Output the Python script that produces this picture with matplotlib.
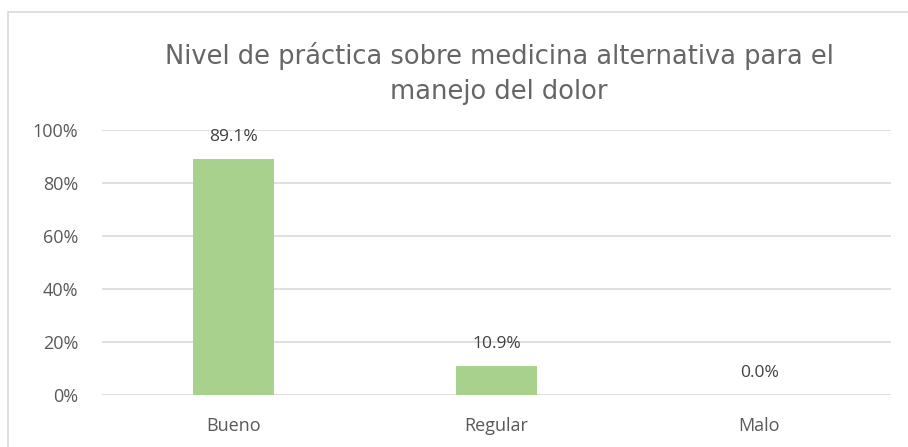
import matplotlib.pyplot as plt
from matplotlib.patches import Rectangle
from matplotlib.ticker import PercentFormatter

# data
categories = ['Bueno', 'Regular', 'Malo']
values = [0.891, 0.109, 0.0]
labels = ['89.1%', '10.9%', '0.0%']
yticks = [0, 0.2, 0.4, 0.6, 0.8, 1.0]

bar_color = '#a9d18e'
grid_color = '#d9d9d9'
text_color = '#595959'

fig = plt.figure(figsize=(9.08, 4.47), dpi=100)

# outer chart border
fig.patches.append(Rectangle((8 / 908, -0.01), 1.02, (447 - 12) / 447 + 0.01,
                             transform=fig.transFigure, fill=False,
                             edgecolor=grid_color, linewidth=1.2))

ax = fig.add_axes([102 / 908, (447 - 395) / 447, (891 - 102) / 908, (395 - 130) / 447])
x = range(len(categories))
ax.bar(x, values, width=0.31, color=bar_color, zorder=2)
ax.set_xlim(-0.5, 2.5)
ax.set_ylim(0, 1.0)
ax.set_yticks(yticks)
ax.yaxis.set_major_formatter(PercentFormatter(1.0, decimals=0))
ax.set_xticks(list(x))
ax.set_xticklabels(categories)
ax.grid(axis='y', color=grid_color, linewidth=1.2, zorder=0)
for s in ax.spines.values():
    s.set_visible(False)
ax.tick_params(length=0, labelsize=13, labelcolor=text_color)
ax.tick_params(axis='y', pad=17)
ax.tick_params(axis='x', pad=16)
for t in ax.get_xticklabels() + ax.get_yticklabels():
    t.set_family('Open Sans')

# data labels above bars
for i, (v, lab) in enumerate(zip(values, labels)):
    ax.annotate(lab, (i, v), xytext=(0, 10), textcoords='offset points',
                ha='center', va='bottom', fontsize=12.5, color='#404040',
                family='Open Sans')

# two-line title, centred over the plot
fig.text(499 / 908, 1 - 64 / 447, 'Nivel de práctica sobre medicina alternativa para el',
         ha='center', va='baseline', fontsize=18.5, color='#666666',
         family='DejaVu Sans')
fig.text(499 / 908, 1 - 99 / 447, 'manejo del dolor',
         ha='center', va='baseline', fontsize=18.5, color='#666666',
         family='DejaVu Sans')

fig.savefig('out.png', dpi=100)
